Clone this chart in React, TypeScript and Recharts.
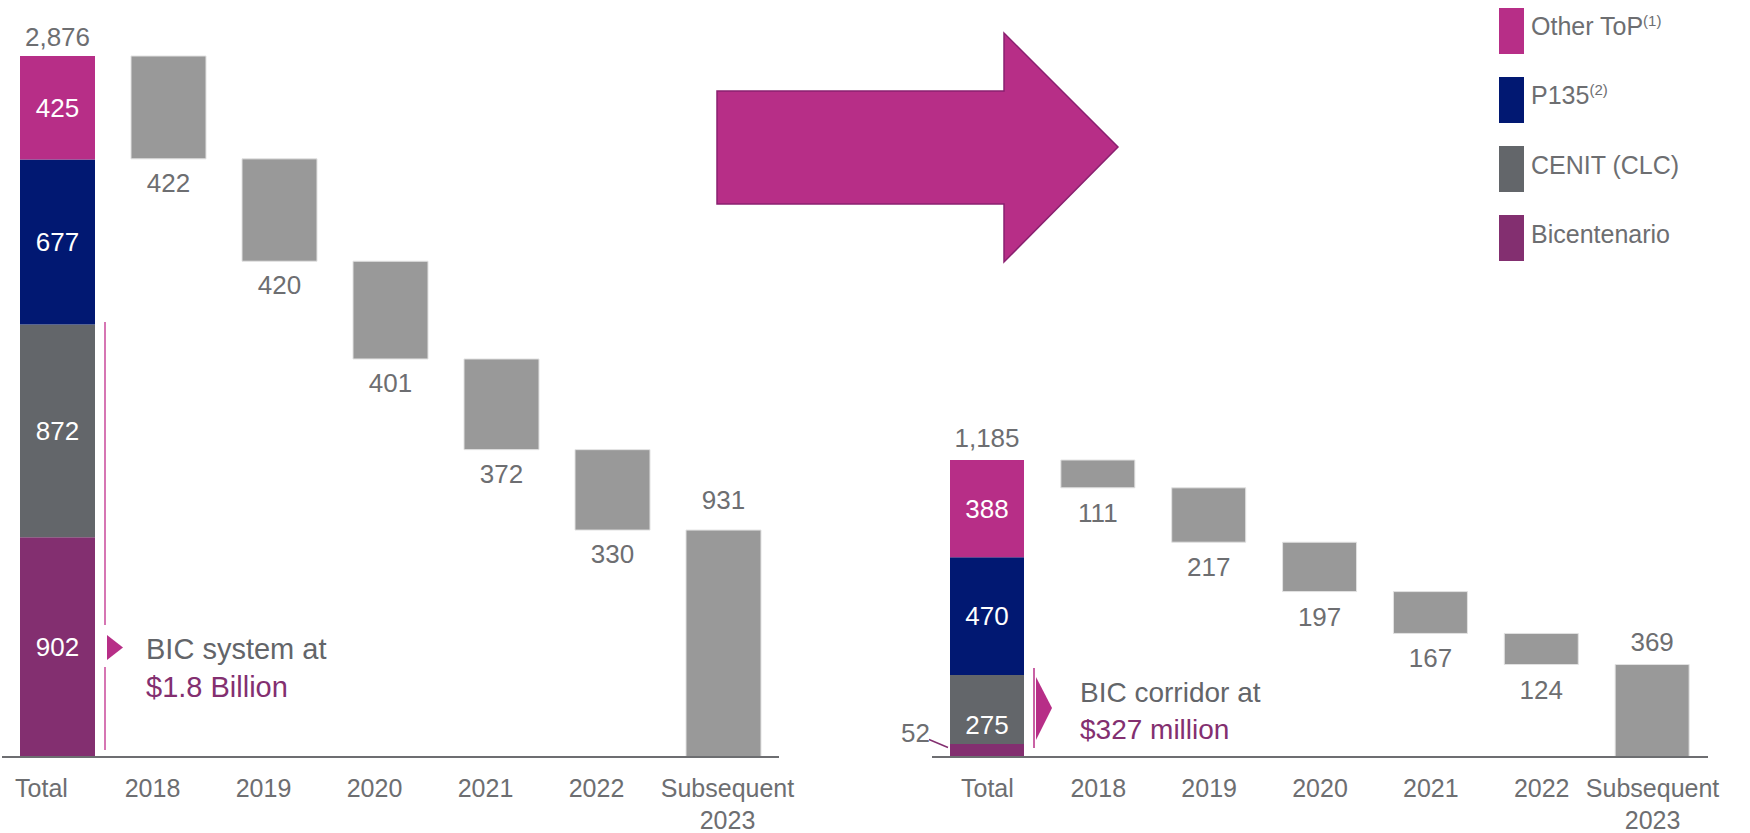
import { BarChart, Bar, XAxis, YAxis, LabelList, Legend } from 'recharts'

const FONT = '"Liberation Sans", Arial, sans-serif'
const TEXT = '#6d6e71'
const DROP_COLOR = '#999999'
const NUM_SIZE = 26

const CATEGORIES = ['Total', '2018', '2019', '2020', '2021', '2022', 'Subsequent 2023']

// stack order bottom -> top
const SEGMENT_KEYS = ['bic', 'cenit', 'p135', 'other']
const SEGMENT_NAMES = ['Bicentenario', 'CENIT (CLC)', 'P135', 'Other ToP']
const SEGMENT_NOTES = ['', '', '(2)', '(1)']
const SEGMENT_COLORS = ['#832f70', '#63666a', '#011872', '#b72e87']

// BIC system
const SYSTEM_SEGMENTS = [902, 872, 677, 425]
const SYSTEM_YEARLY = [422, 420, 401, 372, 330]
const SYSTEM_SUBSEQUENT = 931

// BIC corridor
const CORRIDOR_SEGMENTS = [52, 275, 470, 388]
const CORRIDOR_YEARLY = [111, 217, 197, 167, 124]
const CORRIDOR_SUBSEQUENT = 369

type Row = Record<string, number | string>

function buildRows(segments: number[], yearly: number[], subsequent: number) {
  const total = segments.reduce((a, b) => a + b, 0)
  const first: Row = { name: CATEGORIES[0], base: 0, drop: 0, rest: 0, total }
  SEGMENT_KEYS.forEach((k, i) => { first[k] = segments[i] })
  const rows: Row[] = [first]
  let level = total
  yearly.forEach((v, i) => {
    level -= v
    rows.push({ name: CATEGORIES[i + 1], base: level, drop: v, rest: 0 })
  })
  rows.push({ name: CATEGORIES[6], base: 0, drop: 0, rest: subsequent })
  return { rows, total }
}

const fmt = (v: number) => v.toLocaleString('en-US')

function box(props: any) {
  const vb = props.viewBox || props
  return { x: +vb.x, y: +vb.y, w: +vb.width, h: +vb.height }
}

const segmentLabel = (dy: number) => (props: any) => {
  if (!props.value) return null
  const { x, y, w, h } = box(props)
  return (
    <text x={x + w / 2} y={y + h / 2 + 9 + dy} textAnchor="middle" fill="#ffffff" fontSize={NUM_SIZE} fontFamily={FONT}>
      {fmt(props.value)}
    </text>
  )
}

const outsideLabel = (props: any) => {
  if (!props.value) return null
  const { x, y, h } = box(props)
  const mid = y + h / 2
  return (
    <g>
      <line x1={x - 21} y1={mid - 11} x2={x - 2} y2={mid - 3} stroke="#832f70" strokeWidth={1.5} />
      <text x={x - 20} y={mid - 8} textAnchor="end" fill={TEXT} fontSize={NUM_SIZE} fontFamily={FONT}>
        {fmt(props.value)}
      </text>
    </g>
  )
}

const belowLabel = (gap: number) => (props: any) => {
  if (!props.value) return null
  const { x, y, w, h } = box(props)
  return (
    <text x={x + w / 2} y={y + h + gap} textAnchor="middle" fill={TEXT} fontSize={NUM_SIZE} fontFamily={FONT}>
      {fmt(props.value)}
    </text>
  )
}

const aboveLabel = (gap: number) => (props: any) => {
  if (!props.value) return null
  const { x, y, w } = box(props)
  return (
    <text x={x + w / 2} y={y - gap} textAnchor="middle" fill={TEXT} fontSize={NUM_SIZE} fontFamily={FONT}>
      {fmt(props.value)}
    </text>
  )
}

const makeTick = (shift: (i: number) => number) => (props: any) => {
  const { x, y, payload } = props
  const i = props.index ?? payload.index
  const dx = shift(i)
  const lines = String(payload.value).split(' ')
  return (
    <text x={x + dx} y={y + 40} textAnchor="middle" fill={TEXT} fontSize={25} fontFamily={FONT}>
      {lines.map((l, k) => (
        <tspan key={k} x={x + dx} dy={k === 0 ? 0 : 32}>{l}</tspan>
      ))}
    </text>
  )
}

function LegendBox() {
  return (
    <div style={{ fontFamily: FONT, color: TEXT, fontSize: 25 }}>
      {[3, 2, 1, 0].map((i) => (
        <div key={i} style={{ display: 'flex', alignItems: 'center', height: 46, marginBottom: 23 }}>
          <span style={{ width: 25, height: 46, background: SEGMENT_COLORS[i], marginRight: 7, flexShrink: 0 }} />
          <span style={{ whiteSpace: 'nowrap', position: 'relative', top: -4 }}>
            {SEGMENT_NAMES[i]}
            {SEGMENT_NOTES[i] && <sup style={{ fontSize: 15 }}>{SEGMENT_NOTES[i]}</sup>}
          </span>
        </div>
      ))}
    </div>
  )
}

interface WaterfallProps {
  segments: number[]
  yearly: number[]
  subsequent: number
  width: number
  margin: { top: number; right: number; bottom: number; left: number }
  barSize: number
  tickShift: (i: number) => number
  dropGap: number
  restGap: number
  totalGap: number
  cenitDy: number
  outsideFirst?: boolean
  legend?: boolean
}

function Waterfall(p: WaterfallProps) {
  const { rows, total } = buildRows(p.segments, p.yearly, p.subsequent)
  return (
    <BarChart width={p.width} height={833} data={rows} margin={p.margin} barCategoryGap={0}>
      <YAxis hide domain={[0, total]} />
      <XAxis
        dataKey="name"
        interval={0}
        height={60}
        tickLine={false}
        tickSize={0}
        tickMargin={0}
        axisLine={{ stroke: TEXT, strokeWidth: 2 }}
        tick={makeTick(p.tickShift)}
      />
      <Bar dataKey="base" stackId="w" fill="transparent" barSize={p.barSize} isAnimationActive={false} />
      {SEGMENT_KEYS.map((k, i) => (
        <Bar key={k} dataKey={k} name={SEGMENT_NAMES[i]} stackId="w" fill={SEGMENT_COLORS[i]} barSize={p.barSize} isAnimationActive={false}>
          <LabelList
            dataKey={k}
            content={i === 0 && p.outsideFirst ? outsideLabel : segmentLabel(i === 1 ? p.cenitDy : 0)}
          />
          {i === SEGMENT_KEYS.length - 1 && <LabelList dataKey="total" content={aboveLabel(p.totalGap)} />}
        </Bar>
      ))}
      <Bar dataKey="drop" stackId="w" fill={DROP_COLOR} stroke="#e2e2e2" strokeWidth={1} barSize={p.barSize} isAnimationActive={false}>
        <LabelList dataKey="drop" content={belowLabel(p.dropGap)} />
      </Bar>
      <Bar dataKey="rest" stackId="w" fill={DROP_COLOR} stroke="#e2e2e2" strokeWidth={1} barSize={p.barSize} isAnimationActive={false}>
        <LabelList dataKey="rest" content={aboveLabel(p.restGap)} />
      </Bar>
      {p.legend && (
        <Legend
          layout="vertical"
          align="center"
          verticalAlign="middle"
          wrapperStyle={{ left: 619, top: 8, width: 250 }}
          content={() => <LegendBox />}
        />
      )}
    </BarChart>
  )
}

export default function App() {
  return (
    <div style={{ position: 'absolute', left: 0, top: 0, width: 1750, height: 833, background: '#ffffff', fontFamily: FONT, overflow: 'hidden' }}>
      <div style={{ position: 'absolute', left: 0, top: 0 }}>
        <Waterfall
          segments={SYSTEM_SEGMENTS}
          yearly={SYSTEM_YEARLY}
          subsequent={SYSTEM_SUBSEQUENT}
          width={800}
          margin={{ top: 56, right: 21, bottom: 16, left: 2 }}
          barSize={75}
          tickShift={(i) => (i === CATEGORIES.length - 1 ? 4 : -16)}
          dropGap={33}
          restGap={21}
          totalGap={10}
          cenitDy={0}
        />
      </div>
      <div style={{ position: 'absolute', left: 880, top: 0 }}>
        <Waterfall
          segments={CORRIDOR_SEGMENTS}
          yearly={CORRIDOR_YEARLY}
          subsequent={CORRIDOR_SUBSEQUENT}
          width={870}
          margin={{ top: 460, right: 42, bottom: 16, left: 52 }}
          barSize={74}
          tickShift={() => 0}
          dropGap={34}
          restGap={14}
          totalGap={13}
          cenitDy={15}
          outsideFirst
          legend
        />
      </div>
      <svg width={1750} height={833} style={{ position: 'absolute', left: 0, top: 0, pointerEvents: 'none' }}>
        <polygon
          points="717,91 1004,91 1004,33 1118,147 1004,262 1004,204 717,204"
          fill="#b72e87"
          stroke="#8a2070"
          strokeWidth={1.5}
        />
        <line x1={105} y1={322} x2={105} y2={625} stroke="#c8489a" strokeWidth={1.5} />
        <line x1={105} y1={667} x2={105} y2={750} stroke="#c8489a" strokeWidth={1.5} />
        <polygon points="107,635 123,647.5 107,660" fill="#b72e87" />
        <text x={146} y={659} fill="#636569" fontSize={29} fontFamily={FONT}>BIC system at</text>
        <text x={146} y={697} fill="#832f70" fontSize={29} fontFamily={FONT}>$1.8 Billion</text>
        <line x1={1034} y1={668} x2={1034} y2={748} stroke="#b72e87" strokeWidth={1.5} />
        <polygon points="1036,677 1052,708 1036,740" fill="#b72e87" />
        <text x={1080} y={702} fill="#636569" fontSize={28} fontFamily={FONT}>BIC corridor at</text>
        <text x={1080} y={739} fill="#832f70" fontSize={28} fontFamily={FONT}>$327 million</text>
      </svg>
    </div>
  )
}
